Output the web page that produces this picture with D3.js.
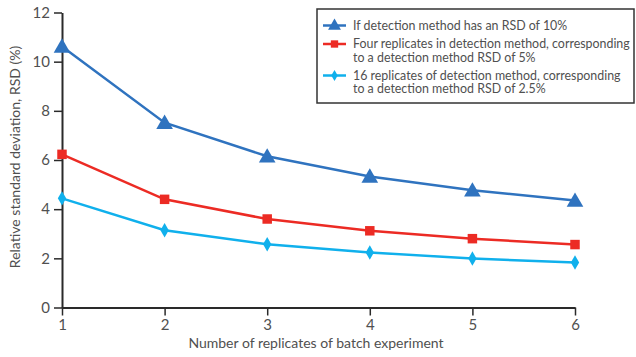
<!DOCTYPE html>
<html>
<head>
<meta charset="utf-8">
<script src="https://cdn.jsdelivr.net/npm/d3@7/dist/d3.min.js"></script>
<style>
  html, body { margin: 0; padding: 0; background: #fff; }
  svg { display: block; }
  text { font-family: Lato, "Open Sans", sans-serif; fill: #505050; }
</style>
</head>
<body>
<svg id="chart" width="636" height="357"></svg>
<script>
const replicates = [1, 2, 3, 4, 5, 6];
const rsd10 = [10.62, 7.52, 6.15, 5.33, 4.77, 4.35];
const rsd5 = [6.23, 4.4, 3.6, 3.12, 2.8, 2.56];
const rsd25 = [4.44, 3.14, 2.57, 2.24, 1.99, 1.83];
const yTicks = [0, 2, 4, 6, 8, 10, 12];
const seriesNames = [
  ["If detection method has an RSD of 10%"],
  ["Four replicates in detection method, corresponding", "to a detection method RSD of 5%"],
  ["16 replicates of detection method, corresponding", "to a detection method RSD of 2.5%"]
];
const seriesColors = ["#2f73bf", "#ec2b24", "#10b0ec"];
const seriesSymbols = ["triangle", "square", "diamond"];
const xTitle = "Number of replicates of batch experiment";
const yTitle = "Relative standard deviation, RSD (%)";

const series = [rsd10, rsd5, rsd25].map((vals, i) => ({
  name: seriesNames[i], color: seriesColors[i], symbol: seriesSymbols[i],
  values: vals.map((v, j) => ({ x: replicates[j], y: v }))
}));

const svg = d3.select("#chart");
const x = d3.scaleLinear().domain([1, 6]).range([62, 575]);
const y = d3.scaleLinear().domain([0, 12]).range([307.5, 12.5]);

const axisColor = "#2a2a2a";

// axes
const gx = svg.append("g").attr("transform", `translate(0,${y(0)})`)
  .call(d3.axisBottom(x).tickValues(replicates).tickFormat(d3.format("d")).tickSize(8).tickSizeOuter(0).tickPadding(4));
const gy = svg.append("g").attr("transform", `translate(${x(1)},0)`)
  .call(d3.axisLeft(y).tickValues(yTicks).tickSize(8).tickSizeOuter(0).tickPadding(4));
[gx, gy].forEach(g => {
  g.select(".domain").attr("stroke", axisColor).attr("stroke-width", 2);
  g.selectAll(".tick line").attr("stroke", axisColor).attr("stroke-width", 1.5);
  g.selectAll(".tick text").attr("fill", "#505050").style("font-size", "15px").style("font-family", "Lato, 'Open Sans', sans-serif");
});

// titles
svg.append("text").attr("x", 316).attr("y", 348).attr("text-anchor", "middle")
  .style("font-size", "14px").text(xTitle);
svg.append("text").attr("transform", "translate(20,157) rotate(-90)").attr("text-anchor", "middle")
  .style("font-size", "14px").text(yTitle);

const line = d3.line().x(d => x(d.x)).y(d => y(d.y));
const symMap = { triangle: d3.symbolTriangle, square: d3.symbolSquare, diamond: d3.symbolDiamond };
const symSize = { triangle: 120, square: 90, diamond: 60 };

series.forEach(s => {
  svg.append("path").datum(s.values).attr("d", line)
    .attr("fill", "none").attr("stroke", s.color).attr("stroke-width", 2.5);
  svg.append("g").selectAll("path").data(s.values).join("path")
    .attr("transform", d => `translate(${x(d.x)},${y(d.y) + (s.symbol === "triangle" ? 1.5 : 0)})`)
    .attr("d", d3.symbol().type(symMap[s.symbol]).size(symSize[s.symbol]))
    .attr("fill", s.color);
});

// legend
const lg = svg.append("g");
lg.append("rect").attr("x", 317).attr("y", 9).attr("width", 317).attr("height", 94)
  .attr("fill", "#fff").attr("stroke", "#333").attr("stroke-width", 1.5);
const rowY = [25.5, 44, 75.5];
series.forEach((s, i) => {
  const g = lg.append("g").attr("transform", `translate(0,${rowY[i]})`);
  g.append("line").attr("x1", 323).attr("x2", 346).attr("stroke", s.color).attr("stroke-width", 2.5);
  g.append("path").attr("transform", `translate(334.5,${s.symbol === "triangle" ? 0.5 : 0})`)
    .attr("d", d3.symbol().type(symMap[s.symbol]).size(symSize[s.symbol] * 0.6)).attr("fill", s.color);
  s.name.forEach((t, k) => {
    g.append("text").attr("x", 353).attr("y", k * 13.5).attr("dy", "0.35em")
      .style("font-size", "12.4px").text(t);
  });
});
</script>
</body>
</html>
